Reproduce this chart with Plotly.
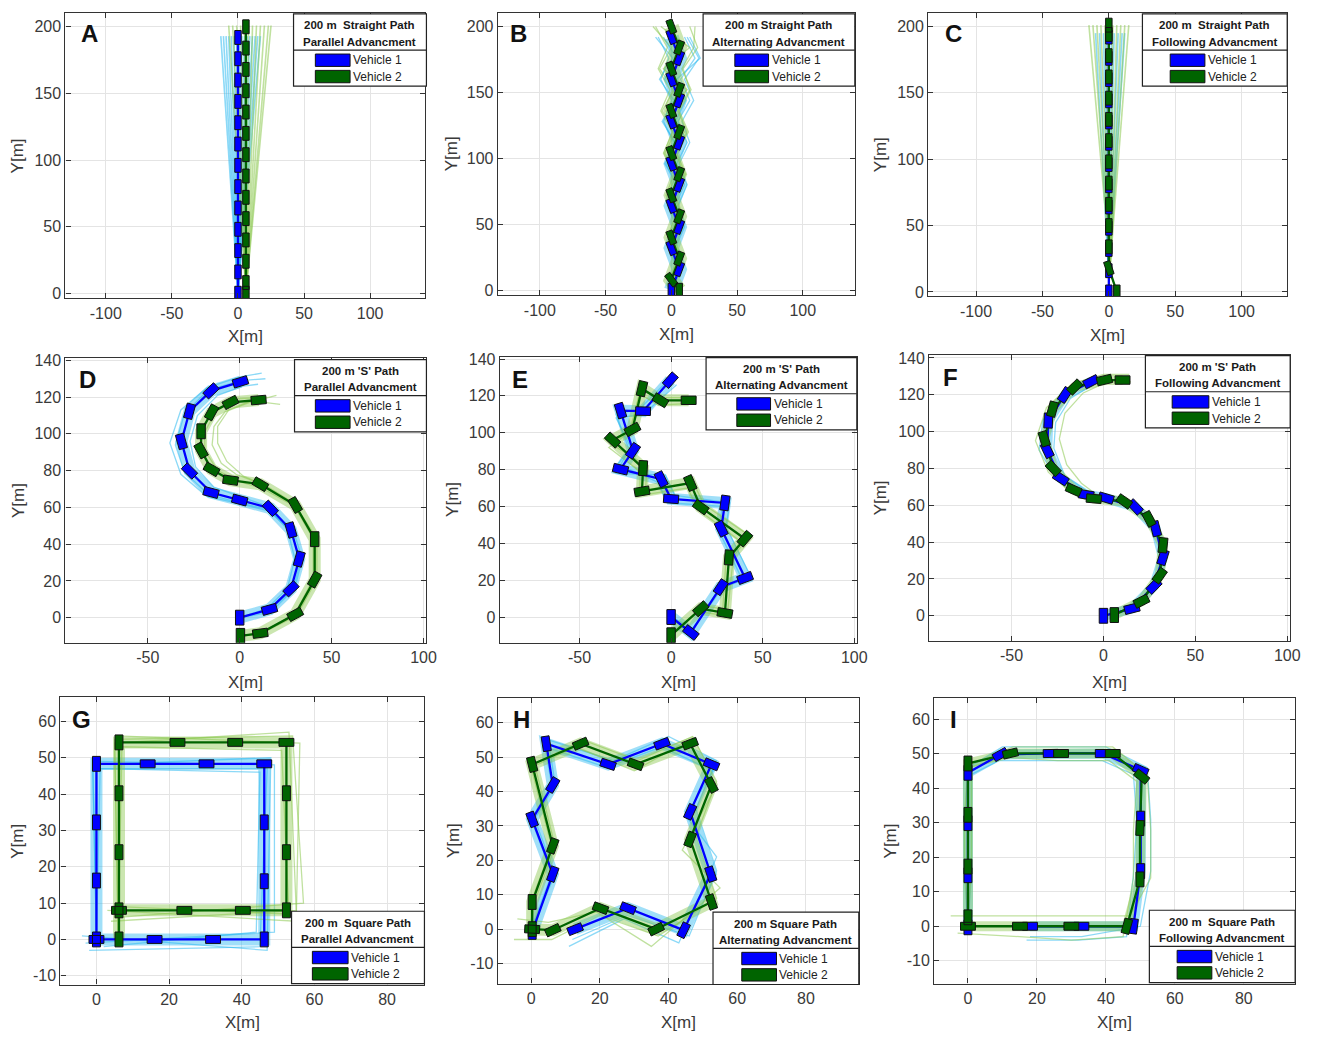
import math
import plotly.graph_objects as go

FIG_W, FIG_H = 1323, 1042

# ------------------------------------------------------------------ data
# A : straight path, parallel advancement
A_v1_x = [0, 0, 0, 0, 0, 0, 0, 0, 0, 0, 0, 0, 0]
A_v1_y = [0, 16, 32, 48, 64, 80, 96, 112, 128, 144, 160, 176, 192]
A_v2_x = [6, 6, 6, 6, 6, 6, 6, 6, 6, 6, 6, 6, 6, 6]
A_v2_y = [0, 8, 24, 40, 56, 72, 88, 104, 120, 136, 152, 168, 184, 200]
A_v1_fan_base = (0, 0)
A_v1_fan_tip_x = [-13, -11, -9, -7, -5, -3, -1, 1, 3, 5, 7, 9, 11, 13, 15, 17]
A_v1_fan_tip_y = 193
A_v2_fan_base = (6, 0)
A_v2_fan_tip_x = [-7, -4, -1, 2, 5, 8, 11, 14, 17, 20, 23, 25]
A_v2_fan_tip_y = 201

# B : straight path, alternating advancement
B_v1_x = [0, 6, 0, 6, 0, 6, 0, 6, 0, 6, 0, 6, 0]
B_v1_y = [0, 16, 32, 48, 64, 80, 96, 112, 128, 144, 160, 176, 192]
B_v2_x = [6, 0, 6, 0, 6, 0, 6, 0, 6, 0, 6, 0, 6, 0]
B_v2_y = [0, 8, 24, 40, 56, 72, 88, 104, 120, 136, 152, 168, 184, 200]
B_v1_trials_x = [
    [0, 5, -1, 4, -3, 3, -4, 2, -6, 0, -8, -2, -10],
    [0, 7, 2, 9, 3, 10, 4, 12, 5, 14, 7, 18, 10],
    [0, 6, 1, 7, 2, 8, 1, 9, 3, 11, 4, 22, 14],
    [0, 4, -2, 5, -1, 6, -3, 5, -2, 7, -5, 4, -6],
    [0, 6, -1, 6, -2, 5, -5, 3, -7, 2, -9, 1, -12],
    [0, 8, 3, 10, 5, 12, 6, 14, 8, 17, 10, 21, 12],
]
B_v2_trials_x = [
    [6, -1, 4, -3, 3, -4, 2, -6, 1, -8, -1, -10, -3, -12],
    [6, 1, 8, 2, 9, 3, 11, 4, 13, 6, 15, 8, 17, 18],
    [6, 0, 7, -1, 8, -2, 9, -3, 10, -4, 12, -6, 14, -8],
    [6, 1, 7, 1, 8, 2, 10, 3, 12, 5, 14, 9, 20, 14],
    [6, -1, 5, -2, 5, -3, 4, -5, 3, -7, 2, -9, 0, -14],
]

# C : straight path, following advancement
C_v1_x = [0, 0, 0, 0, 0, 0, 0, 0, 0, 0, 0, 0, 0]
C_v1_y = [0, 16, 32, 48, 64, 80, 96, 112, 128, 144, 160, 176, 192]
C_v2_x = [6, 0, 0, 0, 0, 0, 0, 0, 0, 0, 0, 0, 0, 0]
C_v2_y = [0, 18, 34, 50, 66, 82, 98, 114, 130, 146, 162, 178, 194, 201]
C_v1_fan_base = (0, 10)
C_v1_fan_tip_x = [-10, -7, -4, -2, 2, 4, 7, 10, 12]
C_v1_fan_tip_y = 195
C_v2_fan_base = (1, 20)
C_v2_fan_tip_x = [-15, -12, -9, -6, -3, 0, 3, 6, 9, 12, 15]
C_v2_fan_tip_y = 201

# D : 'S' path, parallel advancement
D_v1_x = [0, 16.2, 27.9, 32.4, 27.9, 16.7, 0, -15.6, -27.3, -31.7, -27.3, -15.6, 0.4]
D_v1_y = [0, 4.5, 15.7, 31.9, 47.7, 59.5, 64, 68.1, 79.8, 95.9, 112.3, 123.4, 128.3]
D_v2_x = [0.4, 11.2, 30.2, 40.8, 40.8, 30.2, 11.2, -5, -15.3, -21, -21, -15.3, -5, 10.3]
D_v2_y = [-9.9, -8.5, 1.8, 20.7, 42.7, 61.3, 72.6, 74.8, 80.7, 91, 101.4, 111.7, 117.1, 118.4]
D_v1_trials = [
    ([0, 17, 30, 34, 29, 16, 0, -18, -32, -38, -32, -18, 0, 12],
     [0, 3, 16, 32, 48, 58, 62, 66, 78, 95, 113, 125, 131, 133]),
    ([0, 15, 26, 30, 26, 14, 0, -14, -24, -27, -23, -12, 2, 10],
     [0, 5, 16, 32, 48, 61, 66, 71, 82, 96, 110, 121, 126, 127]),
    ([0, 16, 29, 33, 28, 15, -2, -17, -30, -35, -30, -17, 1, 14],
     [0, 4, 15, 31, 47, 59, 63, 67, 79, 94, 111, 124, 129, 130]),
]
D_v2_trials = [
    ([0, 12, 30, 40, 40, 29, 11, -2, -10, -15, -14, -8, 5, 20],
     [-10, -8, 2, 21, 43, 62, 73, 78, 84, 94, 104, 112, 117, 121]),
    ([0, 11, 31, 42, 42, 31, 13, 0, -12, -19, -19, -13, -3, 15],
     [-10, -9, 1, 21, 43, 60, 70, 74, 80, 91, 101, 112, 119, 120]),
    ([0, 12, 31, 41, 41, 30, 14, 2, -7, -12, -12, -6, 6, 22],
     [-10, -8, 2, 21, 43, 62, 72, 77, 85, 95, 104, 113, 118, 116]),
]

# E : 'S' path, alternating advancement
E_v1_x = [0, 10.8, 27.1, 40.4, 27.4, 29.4, 0, -5.4, -27.6, -20.8, -27.6, -15.3, -0.4]
E_v1_y = [0, -8.4, 16.2, 21.2, 47.9, 61.9, 64.1, 74.8, 80.2, 90.2, 112, 111.7, 128.5]
E_v2_x = [0, 16.2, 29.4, 31.6, 40.3, 16.2, 10.5, -15.9, -15.3, -31.9, -21.1, -15.9, -5.8, 9.6]
E_v2_y = [-9.9, 4.5, 2.2, 32.3, 42.5, 59.6, 72.7, 68.2, 80.8, 96, 101.8, 123.9, 117.6, 117.6]
E_v1_trials = [
    ([0, 12, 29, 43, 30, 32, 2, -3, -30, -23, -30, -17, 1],
     [0, -6, 17, 23, 49, 62, 66, 77, 78, 91, 110, 113, 131]),
    ([0, 10, 26, 39, 26, 28, -2, -7, -29, -22, -30, -15, 3],
     [0, -9, 15, 20, 47, 60, 62, 73, 83, 92, 108, 110, 126]),
]
E_v2_trials = [
    ([0, 18, 31, 34, 43, 18, 12, -14, -13, -33, -22, -17, -4, 14],
     [-9, 6, 4, 33, 44, 61, 73, 69, 82, 94, 101, 123, 119, 119]),
    ([0, 15, 28, 30, 38, 15, 9, -17, -17, -34, -23, -17, -7, 12],
     [-10, 3, 1, 31, 41, 58, 70, 66, 79, 92, 100, 121, 115, 116]),
]

# F : 'S' path, following advancement
F_v1_x = [0, 15.5, 27.5, 32.4, 28.4, 17.3, 1.4, -9.4, -23.2, -30.6, -30, -21, -6.7]
F_v1_y = [0, 3.9, 16.1, 31.7, 47.3, 59.1, 63.9, 65.7, 74.6, 89.9, 106, 119.9, 127.1]
F_v2_x = [5.9, 20.7, 30.6, 32.4, 24.8, 11.3, -5.2, -16.2, -27.3, -32.2, -27.7, -15.6, 0.5, 10.4]
F_v2_y = [0.4, 7.9, 21.8, 38.3, 52.6, 62.1, 63.6, 68.4, 80, 96.1, 112.2, 124.2, 128, 128]
F_v1_trials = [
    ([0, 15, 27, 32, 28, 17, 1, -10, -26, -35, -33, -22, -7],
     [0, 4, 16, 32, 47, 59, 64, 66, 75, 90, 106, 121, 129]),
    ([0, 16, 28, 33, 29, 18, 2, -8, -21, -27, -26, -18, -5],
     [0, 4, 16, 32, 47, 60, 64, 67, 76, 91, 105, 118, 126]),
]
F_v2_trials = [
    ([6, 21, 31, 33, 25, 11, -4, -12, -20, -24, -21, -11, 2, 15],
     [0, 8, 22, 38, 53, 62, 66, 72, 82, 96, 110, 121, 127, 127]),
    ([6, 20, 30, 32, 24, 10, -6, -18, -30, -37, -31, -17, 0, 14],
     [0, 8, 22, 38, 52, 62, 63, 67, 78, 95, 113, 126, 131, 131]),
]

# G : square path, parallel advancement
G_v1_x = [0, 0, 0, 0, 14.1, 30.3, 46.2, 46.2, 46.2, 46.2, 32.1, 16, 0]
G_v1_y = [0, 16.2, 32.2, 48.3, 48.3, 48.3, 48.3, 32.2, 16, 0, 0, 0, 0]
G_v2_x = [6.2, 6.2, 6.2, 6.2, 6.2, 22.3, 38.2, 52.3, 52.3, 52.3, 52.3, 40.3, 24.2, 6.2]
G_v2_y = [0, 8, 24, 40.2, 54.2, 54.2, 54.2, 54.2, 40.2, 24, 8, 8, 8, 8]
G_v1_trials = [
    ([0, -1, 48, 47, -4], [0, 48, 50, -3, 1]),
    ([0, 1, 45, 44, 2], [0, 47, 46, 2, -2]),
    ([0, 0, 49, 49, -3], [0, 49, 48, 2, -1]),
    ([0, -1, 47, 45, -2], [0, 47, 47, -2, -3]),
]
G_v2_trials = [
    ([6, 5, 54, 57, 5], [0, 55, 56, 10, 6]),
    ([6, 7, 51, 53, 6], [0, 53, 52, 7, 9]),
    ([6, 6, 56, 55, 3], [0, 56, 54, 5, 8]),
    ([6, 5, 53, 55, 4], [0, 54, 57, 8, 5]),
]

# H : square path, alternating advancement
H_v1_x = [0.3, 6.3, 0.3, 6.3, 4.4, 22.4, 38.1, 52.5, 46.3, 52.3, 44.4, 28.2, 12.8]
H_v1_y = [-0.8, 16, 31.9, 41.9, 53.9, 47.9, 53.9, 47.9, 34.1, 16, -0.3, 6.1, 0]
H_v2_x = [0.3, 0.3, 6.3, 0.3, 14.4, 30.4, 46.3, 52.5, 46.3, 52.5, 36.4, 20.2, 6.3, 0.3]
H_v2_y = [0, 7.9, 24.2, 47.9, 53.9, 47.9, 53.9, 41.9, 26.1, 7.9, 0, 6.1, -0.3, 0]
H_v1_trials = [
    ([0, 7, 1, 7, 5, 24, 40, 54, 48, 54, 46, 28, 12],
     [0, 16, 32, 42, 55, 49, 56, 49, 35, 17, -2, 4, -3]),
    ([0, 6, 0, 6, 4, 22, 38, 53, 45, 54, 43, 27, 11],
     [0, 16, 32, 42, 53, 47, 53, 46, 33, 21, -4, 3, -5]),
]
H_v2_trials = [
    ([0, 1, 7, 1, 15, 31, 47, 54, 48, 54, 37, 20, 6, -5],
     [0, 8, 24, 48, 55, 49, 56, 43, 27, 9, -2, 4, -3, -3]),
    ([0, 0, 6, 0, 13, 30, 46, 53, 44, 55, 35, 19, 5, -4],
     [0, 8, 24, 47, 53, 46, 55, 40, 23, 12, -5, 5, 2, 3]),
]

# I : square path, following advancement
I_v1_x = [0, 0, 0, 0, 9.4, 24, 39.1, 50.1, 50.1, 50.1, 48, 32.9, 18]
I_v1_y = [-0.3, 14.8, 29.9, 44.5, 49.8, 50.1, 50.1, 45.3, 31.2, 16, 0, 0, 0]
I_v2_x = [0, 0, 0, 0, 12.3, 27, 42, 50.4, 49.9, 49.9, 46.1, 30, 15.1, 0]
I_v2_y = [2.6, 17.3, 32.3, 47.2, 50.1, 50.1, 50.1, 43.4, 28.5, 13.6, 0, 0, 0, 0]
I_v1_trials = [
    ([0, -1, -1, 0, 10, 25, 40, 52, 53, 53, 50, 33, 18],
     [0, 15, 30, 46, 52, 52, 52, 46, 31, 16, 0, -3, -3]),
    ([0, 1, 1, 1, 9, 24, 39, 48, 49, 48, 46, 32, 17],
     [0, 15, 30, 44, 48, 48, 48, 44, 30, 15, -3, -4, -4]),
]
I_v2_trials = [
    ([0, 1, 1, 1, 13, 27, 42, 52, 53, 53, 47, 30, 15, -5],
     [2, 17, 32, 47, 52, 52, 52, 44, 28, 14, 3, 3, 3, 3]),
    ([0, -1, -1, 0, 11, 26, 41, 49, 48, 48, 45, 30, 15, -3],
     [2, 17, 32, 46, 49, 48, 48, 42, 28, 14, -3, -4, -3, -2]),
]

X_TICKS_STRAIGHT = [-100, -50, 0, 50, 100]
Y_TICKS_STRAIGHT = [0, 50, 100, 150, 200]
X_TICKS_S = [-50, 0, 50, 100]
Y_TICKS_S = [0, 20, 40, 60, 80, 100, 120, 140]
X_TICKS_SQ = [0, 20, 40, 60, 80]
Y_TICKS_SQ = [-10, 0, 10, 20, 30, 40, 50, 60]

LEG_TITLES = {
    "A": ("200 m  Straight Path", "Parallel Advancment"),
    "B": ("200 m Straight Path", "Alternating Advancment"),
    "C": ("200 m  Straight Path", "Following Advancment"),
    "D": ("200 m 'S' Path", "Parallel Advancment"),
    "E": ("200 m 'S' Path", "Alternating Advancment"),
    "F": ("200 m 'S' Path", "Following Advancment"),
    "G": ("200 m  Square Path", "Parallel Advancment"),
    "H": ("200 m Square Path", "Alternating Advancment"),
    "I": ("200 m  Square Path", "Following Advancment"),
}
LEG_ENTRIES = ["Vehicle 1", "Vehicle 2"]

# ------------------------------------------------------------------ style / layout
BLUE = "#0000FF"
DGREEN = "#006400"
LBLUE_LINE = "rgba(45,185,240,0.55)"
LGREEN_LINE = "rgba(140,200,80,0.55)"
LBLUE_BAND = "rgba(45,185,240,0.45)"
LGREEN_BAND = "rgba(140,200,80,0.45)"
FONT = "Liberation Sans, Arial, sans-serif"
AX_COL = "#333333"

# pixel boxes of the axes: x0, x1, y0(top), y1(bottom)
BOX = {
    "A": (66, 429, 7, 295), "B": (502, 862, 7, 292), "C": (936, 1298, 7, 293),
    "D": (66, 430, 355, 643), "E": (504, 864, 354, 643), "F": (937, 1301, 352, 641),
    "G": (61, 428, 698, 988), "H": (502, 866, 699, 987), "I": (942, 1306, 699, 987),
}
RANGE = {
    "A": ([-130.5, 141.8], [-3.7, 210.4]),
    "B": ([-132, 139.6], [-3.75, 210.3]),
    "C": ([-136, 134.3], [-3.2, 210.2]),
    "D": ([-94.8, 101.6], [-13.7, 141.5]),
    "E": ([-93.5, 101.4], [-14, 141.3]),
    "F": ([-94.8, 101.6], [-13.6, 141.8]),
    "G": ([-9.9, 90.3], [-12.4, 66.6]),
    "H": ([-9.7, 95.4], [-15.8, 67.1]),
    "I": ([-9.8, 94.9], [-16.6, 66.1]),
}
# legend boxes: x0, x1, y0(top), swatch x0, swatch x1
LEG = {
    "A": (296, 430, 8, 318, 353), "B": (709, 862, 8, 741, 775), "C": (1152, 1298, 8, 1180, 1215),
    "D": (297, 430, 357, 318, 353), "E": (712, 864, 355, 743, 777), "F": (1155, 1301, 353, 1182, 1219),
    "G": (294, 428, 914, 315, 351), "H": (719, 866, 915, 748, 783), "I": (1159, 1306, 913, 1187, 1222),
}
LETTER_POS = {
    "A": (90, 28), "B": (523, 28), "C": (961, 28),
    "D": (88, 377), "E": (524, 377), "F": (958, 375),
    "G": (82, 720), "H": (526, 720), "I": (961, 720),
}
XLAB_Y = {"A": 334, "B": 332, "C": 333, "D": 683, "E": 683, "F": 683, "G": 1026, "H": 1026, "I": 1026}
YLAB_X = {"A": 18, "B": 455, "C": 888, "D": 18, "E": 457, "F": 888, "G": 18, "H": 458, "I": 898}

PANELS = {
    "A": dict(v1=(A_v1_x, A_v1_y), v2=(A_v2_x, A_v2_y),
              fan1=(A_v1_fan_base, A_v1_fan_tip_x, A_v1_fan_tip_y),
              fan2=(A_v2_fan_base, A_v2_fan_tip_x, A_v2_fan_tip_y),
              ticks=(X_TICKS_STRAIGHT, Y_TICKS_STRAIGHT), rect=(14, 6.5), band=0),
    "B": dict(v1=(B_v1_x, B_v1_y), v2=(B_v2_x, B_v2_y),
              t1=[(tx, B_v1_y) for tx in B_v1_trials_x],
              t2=[(tx, B_v2_y) for tx in B_v2_trials_x],
              ticks=(X_TICKS_STRAIGHT, Y_TICKS_STRAIGHT), rect=(14, 6.5), band=15),
    "C": dict(v1=(C_v1_x, C_v1_y), v2=(C_v2_x, C_v2_y),
              fan1=(C_v1_fan_base, C_v1_fan_tip_x, C_v1_fan_tip_y),
              fan2=(C_v2_fan_base, C_v2_fan_tip_x, C_v2_fan_tip_y),
              ticks=(X_TICKS_STRAIGHT, Y_TICKS_STRAIGHT), rect=(14, 6.5), band=0),
    "D": dict(v1=(D_v1_x, D_v1_y), v2=(D_v2_x, D_v2_y), t1=D_v1_trials, t2=D_v2_trials,
              ticks=(X_TICKS_S, Y_TICKS_S), rect=(15, 8.5), band=12),
    "E": dict(v1=(E_v1_x, E_v1_y), v2=(E_v2_x, E_v2_y), t1=E_v1_trials, t2=E_v2_trials,
              ticks=(X_TICKS_S, Y_TICKS_S), rect=(15, 8.5), band=12),
    "F": dict(v1=(F_v1_x, F_v1_y), v2=(F_v2_x, F_v2_y), t1=F_v1_trials, t2=F_v2_trials,
              ticks=(X_TICKS_S, Y_TICKS_S), rect=(15, 8.5), band=10),
    "G": dict(v1=(G_v1_x, G_v1_y), v2=(G_v2_x, G_v2_y), t1=G_v1_trials, t2=G_v2_trials,
              ticks=(X_TICKS_SQ, Y_TICKS_SQ), rect=(15, 8), band=12),
    "H": dict(v1=(H_v1_x, H_v1_y), v2=(H_v2_x, H_v2_y), t1=H_v1_trials, t2=H_v2_trials,
              ticks=(X_TICKS_SQ, Y_TICKS_SQ), rect=(15, 8), band=12),
    "I": dict(v1=(I_v1_x, I_v1_y), v2=(I_v2_x, I_v2_y), t1=I_v1_trials, t2=I_v2_trials,
              ticks=(X_TICKS_SQ, Y_TICKS_SQ), rect=(15, 8), band=10),
}


def px2paper_x(p):
    return p / FIG_W


def px2paper_y(p):
    return 1 - p / FIG_H


def rect_polys(xs, ys, sx, sy, L, Wd):
    px, py = [], []
    for i in range(len(xs)):
        ang = math.pi / 2
        if i > 0:
            dx = (xs[i] - xs[i - 1]) * sx
            dy = (ys[i] - ys[i - 1]) * sy
            if abs(dx) + abs(dy) > 1e-9:
                ang = math.atan2(dy, dx)
        ux, uy = math.cos(ang), math.sin(ang)
        nx, ny = -uy, ux
        for a, b in [(L / 2, Wd / 2), (L / 2, -Wd / 2), (-L / 2, -Wd / 2), (-L / 2, Wd / 2), (L / 2, Wd / 2)]:
            px.append(xs[i] + (a * ux + b * nx) / sx)
            py.append(ys[i] + (a * uy + b * ny) / sy)
        px.append(None)
        py.append(None)
    return px, py


fig = go.Figure()
layout = dict(
    width=FIG_W, height=FIG_H, margin=dict(l=0, r=0, t=0, b=0),
    paper_bgcolor="white", plot_bgcolor="white", showlegend=False,
    font=dict(family=FONT, color=AX_COL),
)
shapes = []
annotations = []

for idx, key in enumerate("ABCDEFGHI"):
    n = "" if idx == 0 else str(idx + 1)
    xa, ya = "x" + n, "y" + n
    p = PANELS[key]
    x0, x1, y0, y1 = BOX[key]
    xr, yr = RANGE[key]
    sx = (x1 - x0) / (xr[1] - xr[0])
    sy = (y1 - y0) / (yr[1] - yr[0])

    common = dict(showline=True, mirror="ticks", linecolor=AX_COL, linewidth=1.3,
                  ticks="inside", ticklen=5, tickcolor=AX_COL, tickwidth=1,
                  showgrid=True, gridcolor="#e4e4e4", gridwidth=1, zeroline=False,
                  tickfont=dict(family=FONT, size=16, color="#3a3a3a"), fixedrange=True)
    xt, yt = p["ticks"]
    layout["xaxis" + n] = dict(domain=[px2paper_x(x0), px2paper_x(x1)], range=xr, anchor=ya,
                               tickmode="array", tickvals=xt, ticktext=[str(v) for v in xt],
                               **common)
    layout["yaxis" + n] = dict(domain=[px2paper_y(y1), px2paper_y(y0)], range=yr, anchor=xa,
                               tickmode="array", tickvals=yt, ticktext=[str(v) for v in yt],
                               **common)

    # --- trial bundles
    for vk, fk, tk, lc, bc in (("v1", "fan1", "t1", LBLUE_LINE, LBLUE_BAND),
                               ("v2", "fan2", "t2", LGREEN_LINE, LGREEN_BAND)):
        if p.get("band"):
            fig.add_trace(go.Scatter(x=p[vk][0], y=p[vk][1], mode="lines",
                                     line=dict(color=bc, width=p["band"]), xaxis=xa, yaxis=ya,
                                     hoverinfo="skip"))
        if fk in p:
            (bx, by), tips, ty = p[fk]
            fx, fy = [], []
            for t in tips:
                fx += [bx, t, None]
                fy += [by, ty, None]
            fig.add_trace(go.Scatter(x=fx, y=fy, mode="lines",
                                     line=dict(color=lc, width=1.6),
                                     xaxis=xa, yaxis=ya, hoverinfo="skip"))
        if tk in p:
            fx, fy = [], []
            for tx, ty in p[tk]:
                fx += list(tx) + [None]
                fy += list(ty) + [None]
            fig.add_trace(go.Scatter(x=fx, y=fy, mode="lines",
                                     line=dict(color=lc, width=1.3),
                                     xaxis=xa, yaxis=ya, hoverinfo="skip"))

    # --- main paths
    for vk, col in (("v1", BLUE), ("v2", DGREEN)):
        fig.add_trace(go.Scatter(x=p[vk][0], y=p[vk][1], mode="lines",
                                 line=dict(color=col, width=2.3), xaxis=xa, yaxis=ya,
                                 hoverinfo="skip"))
    # --- vehicle rectangles
    L, Wd = p["rect"]
    for vk, col in (("v1", BLUE), ("v2", DGREEN)):
        rx, ry = rect_polys(p[vk][0], p[vk][1], sx, sy, L, Wd)
        fig.add_trace(go.Scatter(x=rx, y=ry, mode="lines", fill="toself", fillcolor=col,
                                 line=dict(color="#111111", width=1), xaxis=xa, yaxis=ya,
                                 hoverinfo="skip"))

    # --- panel letter
    lx, ly = LETTER_POS[key]
    annotations.append(dict(x=px2paper_x(lx), y=px2paper_y(ly), xref="paper", yref="paper",
                            text="<b>%s</b>" % key, showarrow=False, xanchor="center",
                            yanchor="middle", font=dict(family=FONT, size=24, color="#111111")))
    # --- axis labels
    annotations.append(dict(x=px2paper_x((x0 + x1) / 2), y=px2paper_y(XLAB_Y[key]),
                            xref="paper", yref="paper", text="X[m]", showarrow=False,
                            xanchor="center", yanchor="middle",
                            font=dict(family=FONT, size=17, color="#3a3a3a")))
    annotations.append(dict(x=px2paper_x(YLAB_X[key]), y=px2paper_y((y0 + y1) / 2),
                            xref="paper", yref="paper", text="Y[m]", showarrow=False,
                            textangle=-90, xanchor="center", yanchor="middle",
                            font=dict(family=FONT, size=17, color="#3a3a3a")))

    # --- legend box
    lx0, lx1, ly0, sw0, sw1 = LEG[key]
    t1, t2 = LEG_TITLES[key]
    shapes.append(dict(type="rect", xref="paper", yref="paper",
                       x0=px2paper_x(lx0), x1=px2paper_x(lx1),
                       y0=px2paper_y(ly0 + 73), y1=px2paper_y(ly0),
                       fillcolor="white", line=dict(color="#222222", width=1.2)))
    shapes.append(dict(type="line", xref="paper", yref="paper",
                       x0=px2paper_x(lx0), x1=px2paper_x(lx1),
                       y0=px2paper_y(ly0 + 36.5), y1=px2paper_y(ly0 + 36.5),
                       line=dict(color="#222222", width=1.2)))
    for row, txt in ((11.5, t1), (28, t2)):
        annotations.append(dict(x=px2paper_x((lx0 + lx1) / 2), y=px2paper_y(ly0 + row),
                                xref="paper", yref="paper", text="<b>%s</b>" % txt,
                                showarrow=False, xanchor="center", yanchor="middle",
                                font=dict(family=FONT, size=11.5, color="#1a1a1a")))
    for j, (col, lab) in enumerate(zip((BLUE, DGREEN), LEG_ENTRIES)):
        top = ly0 + 40.5 + j * 16.5
        shapes.append(dict(type="rect", xref="paper", yref="paper",
                           x0=px2paper_x(sw0), x1=px2paper_x(sw1),
                           y0=px2paper_y(top + 12.5), y1=px2paper_y(top),
                           fillcolor=col, line=dict(color="#111111", width=1)))
        annotations.append(dict(x=px2paper_x(sw1 + 1), y=px2paper_y(top + 6.5),
                                xref="paper", yref="paper", text=lab, showarrow=False,
                                xanchor="left", yanchor="middle",
                                font=dict(family=FONT, size=12, color="#222222")))

layout["shapes"] = shapes
layout["annotations"] = annotations
fig.update_layout(**layout)
fig.write_html("out.html")
